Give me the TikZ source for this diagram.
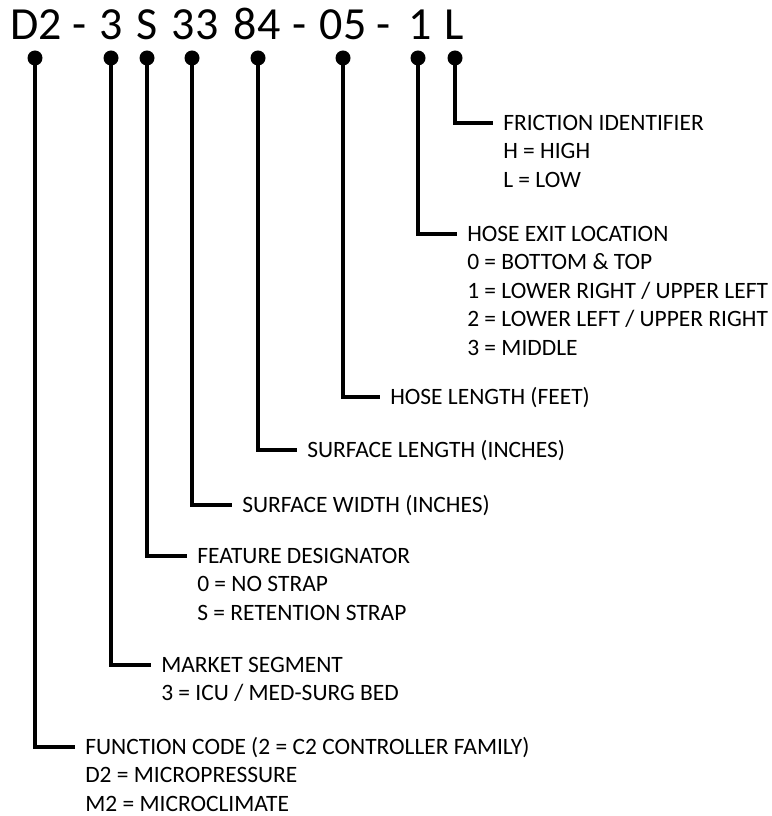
\documentclass[tikz,border=0pt]{standalone}
\usepackage{fontspec}
\setmainfont{Carlito}
\usepackage{tikz}
\usetikzlibrary{positioning}

\begin{document}
\begin{tikzpicture}[
    x=0.75pt, y=-0.75pt,
    code/.style={anchor=base, inner sep=0pt, font=\fontsize{34.5}{40}\selectfont},
    dot/.style={circle, fill=black, inner sep=0pt, minimum size=11.25pt},
    head/.style={anchor=west, inner xsep=7.5pt, inner ysep=0pt, text height=16pt, text depth=5pt,
        font=\fontsize{17.6}{21}\selectfont},
    note/.style={head, anchor=north west},
    lead/.style={line width=3pt}
]
\useasboundingbox (0,0) rectangle (771,816);

% part number
\node[code] (fam) at (36,40) {D2};
\node[code] (sepa) at (80,40) {-};
\node[code] (mkt) at (111,40) {3};
\node[code] (feat) at (147,40) {S};
\node[code] (wid) at (195,40) {33};
\node[code] (len) at (257,40) {84};
\node[code] (sepb) at (300,40) {-};
\node[code] (hose) at (343,40) {05};
\node[code] (sepc) at (384,40) {-};
\node[code] (exit) at (420,40) {1};
\node[code] (fric) at (454,40) {L};

% dots under each field
\node[dot] (dfam) at (35,58) {};
\node[dot] (dmkt) at (111,58) {};
\node[dot] (dfeat) at (147,58) {};
\node[dot] (dwid) at (192,58) {};
\node[dot] (dlen) at (258,58) {};
\node[dot] (dhose) at (343,58) {};
\node[dot] (dexit) at (418,58) {};
\node[dot] (dfric) at (455,58) {};

% descriptions
\node[head] (hfric) at (493,123) {FRICTION IDENTIFIER};
\node[note] (nfric1) at (hfric.south west) {H = HIGH};
\node[note] (nfric2) at (nfric1.south west) {L = LOW};

\node[head] (hexit) at (457,234) {HOSE EXIT LOCATION};
\node[note] (nexit1) at (hexit.south west) {0 = BOTTOM \& TOP};
\node[note] (nexit2) at (nexit1.south west) {1 = LOWER RIGHT / UPPER LEFT};
\node[note] (nexit3) at (nexit2.south west) {2 = LOWER LEFT / UPPER RIGHT};
\node[note] (nexit4) at (nexit3.south west) {3 = MIDDLE};

\node[head] (hhose) at (380,397) {HOSE LENGTH (FEET)};
\node[head] (hlen) at (297,450) {SURFACE LENGTH (INCHES)};
\node[head] (hwid) at (232,505) {SURFACE WIDTH (INCHES)};

\node[head] (hfeat) at (187,556) {FEATURE DESIGNATOR};
\node[note] (nfeat1) at (hfeat.south west) {0 = NO STRAP};
\node[note] (nfeat2) at (nfeat1.south west) {S = RETENTION STRAP};

\node[head] (hmkt) at (151,665) {MARKET SEGMENT};
\node[note] (nmkt1) at (hmkt.south west) {3 = ICU / MED-SURG BED};

\node[head] (hfam) at (75,747) {FUNCTION CODE (2 = C2 CONTROLLER FAMILY)};
\node[note] (nfam1) at (hfam.south west) {D2 = MICROPRESSURE};
\node[note] (nfam2) at (nfam1.south west) {M2 = MICROCLIMATE};

% leaders
\draw[lead] (dfric.center) |- (hfric.west);
\draw[lead] (dexit.center) |- (hexit.west);
\draw[lead] (dhose.center) |- (hhose.west);
\draw[lead] (dlen.center) |- (hlen.west);
\draw[lead] (dwid.center) |- (hwid.west);
\draw[lead] (dfeat.center) |- (hfeat.west);
\draw[lead] (dmkt.center) |- (hmkt.west);
\draw[lead] (dfam.center) |- (hfam.west);
\end{tikzpicture}
\end{document}
